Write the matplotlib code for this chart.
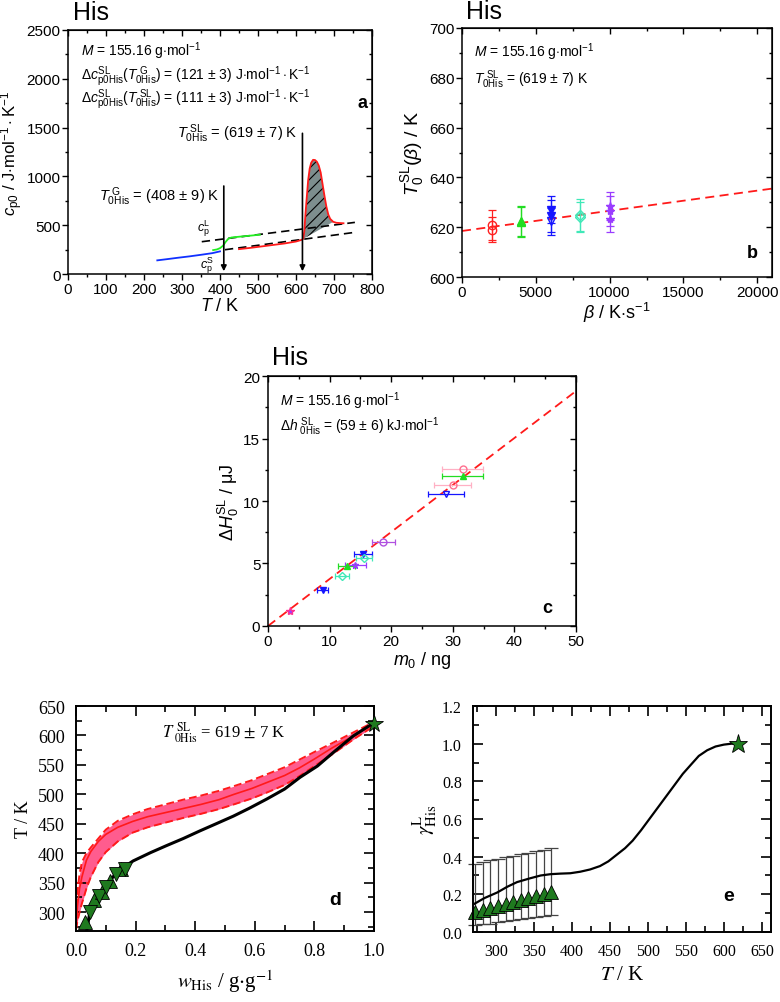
import numpy as np
import matplotlib
matplotlib.use('Agg')
import matplotlib.pyplot as plt
from matplotlib.ticker import MultipleLocator

plt.rcParams['font.family'] = 'Liberation Sans'
plt.rcParams['mathtext.fontset'] = 'custom'
plt.rcParams['mathtext.rm'] = 'Liberation Sans'
plt.rcParams['mathtext.it'] = 'Liberation Sans:italic'
plt.rcParams['mathtext.bf'] = 'Liberation Sans:bold'
plt.rcParams['mathtext.sf'] = 'Liberation Sans'
plt.rcParams['hatch.linewidth'] = 0.8

# ---- panel a : cp0(T) ----
a_blue_T = [235, 260, 290, 320, 350, 380, 400]
a_blue_cp = [140, 152, 167, 181, 197, 214, 232]
a_green_T = [382, 392, 400, 408, 415, 422, 430, 450, 480, 505]
a_green_cp = [245, 252, 265, 290, 330, 362, 374, 382, 393, 403]
a_red_T = [450, 480, 510, 540, 570, 600, 615, 619, 622, 625, 628, 632, 636, 640, 645,
           650, 655, 660, 665, 670, 675, 680, 685, 690, 698, 706, 716, 725]
a_red_cp = [255, 268, 283, 298, 313, 333, 350, 360, 440, 620, 768, 960, 1080, 1140, 1170,
            1168, 1150, 1110, 1040, 920, 800, 690, 610, 565, 535, 525, 522, 520]
a_liq_T = [352, 755]
a_liq_cp = [331, 529]
a_sol_T = [413, 755]
a_sol_cp = [249, 427]
a_Tg = 410
a_Tm = 617

# ---- panel b : T0(beta) ----
b_beta_red = [2000, 2000]
b_T_red = [621, 619]
b_err_red = [6, 5]
b_beta_green = [4000, 4000]
b_T_green = [622.5, 622]
b_err_green = [6, 6]
b_beta_blue = [6000, 6000]
b_T_blue = [627, 624.5]
b_err_blue = [5.5, 6.5]
b_beta_blue_open = [6000]
b_T_blue_open = [622.4]
b_err_blue_open = [5.5]
b_beta_cyan = [8000, 8000]
b_T_cyan = [625, 624]
b_err_cyan = [6.5, 6]
b_beta_violet = [10000, 10000, 10000]
b_T_violet = [628.5, 626.5, 623.5]
b_err_violet = [5.5, 6, 5.5]
b_fit_beta = [0, 21000]
b_fit_T = [618.5, 635.5]

# ---- panel c : dH(m0) ----
c_fit_m = [0, 50]
c_fit_H = [0, 18.8]
c_star_m, c_star_H = [3.5], [1.2]
c_blue_m, c_blue_H, c_blue_err = [8.9, 15.4], [2.85, 5.75], [0.9, 1.5]
c_blueo_m, c_blueo_H, c_blueo_err = [28.9], [10.6], [2.9]
c_cyan_m, c_cyan_H, c_cyan_err = [12.0, 15.6], [4.0, 5.4], [1.2, 1.3]
c_green_m, c_green_H, c_green_err = [12.8, 31.6], [4.8, 12.0], [1.4, 3.3]
c_viol_m, c_viol_H, c_viol_err = [14.2], [4.85], [1.7]
c_violc_m, c_violc_H, c_violc_err = [18.7], [6.7], [1.9]
c_pink_m, c_pink_H, c_pink_err = [30.0, 31.6], [11.3, 12.6], [3.0, 3.3]

# ---- panel d : solubility T(w) ----
d_black_w = [0.036, 0.045, 0.058, 0.075, 0.092, 0.115, 0.136, 0.165, 0.192, 0.25, 0.304, 0.36,
             0.416, 0.47, 0.528, 0.58, 0.64, 0.70, 0.752, 0.81, 0.863, 0.93, 0.992]
d_black_T = [268, 295, 311, 326, 339, 354, 367, 378, 387, 401, 413, 425,
             438, 450, 463, 476, 492, 509, 529, 548, 571, 599, 619]
d_band_w = [0.0, 0.005, 0.012, 0.02, 0.035, 0.05, 0.075, 0.1, 0.14, 0.19, 0.24, 0.3, 0.36, 0.42,
            0.48, 0.53, 0.59, 0.64, 0.7, 0.75, 0.8, 0.86, 0.93, 1.0]
d_up_T = [270, 335, 365, 385, 400, 410, 425, 440, 455, 466, 475, 483, 491, 498,
          506, 514, 524, 534, 546, 559, 572, 587, 605, 623]
d_mid_T = [270, 310, 340, 360, 388, 403, 420, 432, 444, 454, 462, 469, 476, 483,
           491, 500, 510, 520, 532, 545, 560, 579, 599, 620]
d_low_T = [270, 285, 300, 315, 340, 360, 385, 402, 420, 435, 444, 452, 460, 467,
           475, 483, 493, 503, 516, 531, 548, 568, 593, 616]
d_tri_up_w = [0.030, 0.060, 0.086, 0.114, 0.150]
d_tri_up_T = [283, 321, 334, 353, 373]
d_tri_dn_w = [0.047, 0.077, 0.100, 0.134, 0.164]
d_tri_dn_T = [300, 327, 342, 365, 374]
d_star_w, d_star_T = [1.0], [619]

# ---- panel e : activity coefficient ----
e_curve_T = [272, 285, 302, 315, 328, 345, 359, 372, 385, 398, 411, 424, 437, 448, 459, 470,
             480, 491, 502, 513, 524, 535, 546, 557, 567, 578, 589, 600, 610, 619]
e_curve_g = [0.15, 0.18, 0.21, 0.24, 0.265, 0.285, 0.30, 0.307, 0.31, 0.312, 0.32, 0.332,
             0.35, 0.375, 0.41, 0.445, 0.485, 0.54, 0.60, 0.66, 0.72, 0.78, 0.84, 0.89,
             0.935, 0.965, 0.985, 0.995, 1.0, 1.0]
e_tri_T = [273, 283, 293, 303, 313, 323, 333, 343, 353, 363, 373]
e_tri_g = [0.106, 0.118, 0.128, 0.138, 0.148, 0.158, 0.168, 0.178, 0.19, 0.20, 0.212]
e_err_hi = [0.362, 0.372, 0.381, 0.389, 0.397, 0.405, 0.413, 0.421, 0.429, 0.437, 0.446]
e_err_lo = [0.035, 0.040, 0.045, 0.051, 0.057, 0.063, 0.069, 0.075, 0.080, 0.086, 0.092]
e_star_T, e_star_g = [619], [1.0]

fig = plt.figure(figsize=(7.8, 10.03), dpi=100)

SANS = 11
LAB = 13
NOTE = 10


def origin_ticks(ax, xmaj, xmin, ymaj, ymin):
    # Origin style: outward ticks left/bottom, inward mirror ticks top/right
    ax.xaxis.set_major_locator(MultipleLocator(xmaj))
    ax.xaxis.set_minor_locator(MultipleLocator(xmin))
    ax.yaxis.set_major_locator(MultipleLocator(ymaj))
    ax.yaxis.set_minor_locator(MultipleLocator(ymin))
    ax.tick_params(which='major', direction='out', length=4, width=1, labelsize=SANS, pad=1.5)
    ax.tick_params(which='minor', direction='out', length=2, width=1)
    for s in ax.spines.values():
        s.set_linewidth(1.1)
    top = ax.secondary_xaxis('top')
    top.xaxis.set_major_locator(MultipleLocator(xmaj))
    top.xaxis.set_minor_locator(MultipleLocator(xmin))
    top.tick_params(which='major', direction='in', length=4, width=1, labeltop=False)
    top.tick_params(which='minor', direction='in', length=2, width=1)
    right = ax.secondary_yaxis('right')
    right.yaxis.set_major_locator(MultipleLocator(ymaj))
    right.yaxis.set_minor_locator(MultipleLocator(ymin))
    right.tick_params(which='major', direction='in', length=4, width=1, labelright=False)
    right.tick_params(which='minor', direction='in', length=2, width=1)


def kg_ticks(ax, xmaj, xmin, ymaj, ymin, size):
    ax.xaxis.set_major_locator(MultipleLocator(xmaj))
    ax.xaxis.set_minor_locator(MultipleLocator(xmin))
    ax.yaxis.set_major_locator(MultipleLocator(ymaj))
    ax.yaxis.set_minor_locator(MultipleLocator(ymin))
    ax.tick_params(which='both', direction='in', top=True, right=True, width=1.2,
                   labelsize=size, labelfontfamily='Liberation Serif')
    ax.tick_params(which='major', length=7, pad=8)
    ax.tick_params(which='minor', length=4)
    for s in ax.spines.values():
        s.set_linewidth(1.4)


# ================= panel a =================
ax = fig.add_axes([0.0872, 0.7258, 0.3897, 0.2433])
ax.set_xlim(0, 800)
ax.set_ylim(0, 2500)
origin_ticks(ax, 100, 50, 500, 250)
ax.plot(a_liq_T, a_liq_cp, color='k', ls=(0, (5, 3)), lw=1.2)
ax.plot(a_sol_T, a_sol_cp, color='k', ls=(0, (5, 3)), lw=1.2)
i0 = a_red_T.index(619)
i1 = a_red_T.index(698)
poly_T = a_red_T[i0:i1 + 1]
poly_cp = a_red_cp[i0:i1 + 1]
ax.fill(poly_T, poly_cp, facecolor='#7d8e8e', edgecolor='k', hatch='///', lw=0)
ax.plot(a_blue_T, a_blue_cp, color='#1030ff', lw=1.3)
ax.plot(a_green_T, a_green_cp, color='#22ee22', lw=1.3)
ax.plot(a_red_T, a_red_cp, color='#ff1a1a', lw=1.3)
ax.annotate('', xy=(a_Tg, 0), xytext=(a_Tg, 930),
            arrowprops=dict(arrowstyle='-|>', color='k', lw=1.2, mutation_scale=8))
ax.annotate('', xy=(a_Tm, 0), xytext=(a_Tm, 1470),
            arrowprops=dict(arrowstyle='-|>', color='k', lw=1.2, mutation_scale=8))
ax.text(35, 2290, r'$M$ = 155.16 g$\cdot$mol$^{\mathsf{-1}}$', fontsize=NOTE, va='center')
ax.text(35, 2030, r'$\Delta c^{\mathrm{SL}}_{\mathrm{p0His}}(T^{\mathrm{\ G}}_{\mathrm{0His}})$ = (121 $\pm$ 3) J$\cdot$mol$^{-1}\cdot$K$^{-1}$',
        fontsize=NOTE, va='center')
ax.text(35, 1800, r'$\Delta c^{\mathrm{SL}}_{\mathrm{p0His}}(T^{\mathrm{\ SL}}_{\mathrm{0His}})$ = (111 $\pm$ 3) J$\cdot$mol$^{-1}\cdot$K$^{-1}$',
        fontsize=NOTE, va='center')
ax.text(775, 1760, 'a', fontsize=13, fontweight='bold', ha='center', va='center')
ax.text(605, 1445, r'$T^{\mathrm{\ SL}}_{\mathrm{0His}}$ = (619 $\pm$ 7) K', fontsize=10.5, ha='right', va='center')
ax.text(400, 800, r'$T^{\mathrm{\ G}}_{\mathrm{0His}}$ = (408 $\pm$ 9) K', fontsize=10.5, ha='right', va='center')
ax.text(356, 470, r'$c^{\mathrm{L}}_{\mathrm{p}}$', fontsize=9, ha='center', va='center')
ax.text(365, 95, r'$c^{\mathrm{S}}_{\mathrm{p}}$', fontsize=9, ha='center', va='center')
ax.set_xlabel(r'$T$ / K', fontsize=LAB, labelpad=1)
ax.set_ylabel(r'$c_{\mathrm{p0}}$ / J$\cdot$mol$^{-1}\cdot$K$^{-1}$', fontsize=12, labelpad=1)
fig.text(0.094, 0.987, 'His', fontsize=18, va='center')

# ================= panel b =================
ax = fig.add_axes([0.5923, 0.7228, 0.3974, 0.2483])
ax.set_xlim(0, 21000)
ax.set_ylim(600, 700)
origin_ticks(ax, 5000, 2500, 20, 10)
ax.plot(b_fit_beta, b_fit_T, color='#ff1a1a', ls=(0, (5, 3)), lw=1.3)
ekw = dict(capsize=3, elinewidth=0.9, capthick=0.9, ms=6, lw=0)
ax.errorbar(b_beta_red, b_T_red, yerr=b_err_red, fmt='o', color='#ff2020', mfc='none', **ekw)
ax.errorbar(b_beta_green, b_T_green, yerr=b_err_green, fmt='^', color='#22dd22', **ekw)
ax.errorbar(b_beta_blue, b_T_blue, yerr=b_err_blue, fmt='v', color='#1515ff', **ekw)
ax.errorbar(b_beta_blue_open, b_T_blue_open, yerr=b_err_blue_open, fmt='v', color='#1515ff', mfc='none', **ekw)
ax.errorbar(b_beta_cyan, b_T_cyan, yerr=b_err_cyan, fmt='D', color='#40e8b8', mfc='none', ms=5, capsize=3,
            elinewidth=0.9, capthick=0.9, lw=0)
ax.errorbar(b_beta_violet, b_T_violet, yerr=b_err_violet, fmt='*', color='#9a3cff', mfc='#9a3cff', **ekw)
ax.text(790, 690.5, r'$M$ = 155.16 g$\cdot$mol$^{-1}$', fontsize=NOTE, va='center')
ax.text(790, 679.5, r'$T^{\mathrm{\ SL}}_{\mathrm{0His}}$ = (619 $\pm$ 7) K', fontsize=NOTE, va='center')
ax.text(19700, 610, 'b', fontsize=13, fontweight='bold', ha='center', va='center')
ax.set_xlabel(r'$\beta$ / K$\cdot$s$^{-1}$', fontsize=LAB, labelpad=1)
ax.set_ylabel(r'$T^{\mathrm{SL}}_{0}(\beta)$ / K', fontsize=14, labelpad=2)
fig.text(0.598, 0.988, 'His', fontsize=18, va='center')

# ================= panel c =================
ax = fig.add_axes([0.3436, 0.3749, 0.3949, 0.2492])
ax.set_xlim(0, 50)
ax.set_ylim(0, 20)
origin_ticks(ax, 10, 5, 5, 2.5)
ax.plot(c_fit_m, c_fit_H, color='#ff1a1a', ls=(0, (5, 3)), lw=1.3, zorder=1)
ckw = dict(capsize=2.5, elinewidth=0.9, capthick=0.9, lw=0, ms=5)
ax.errorbar(c_pink_m, c_pink_H, xerr=c_pink_err, fmt='o', color='#ff6f8f', mfc='none',
            ecolor='#ffb0c4', **ckw)
ax.errorbar(c_green_m, c_green_H, xerr=c_green_err, fmt='^', color='#22dd22', **ckw)
ax.errorbar(c_blueo_m, c_blueo_H, xerr=c_blueo_err, fmt='v', color='#1515ff', mfc='none', **ckw)
ax.errorbar(c_blue_m, c_blue_H, xerr=c_blue_err, fmt='v', color='#1515ff', **ckw)
ax.errorbar(c_cyan_m, c_cyan_H, xerr=c_cyan_err, fmt='D', color='#40e8b8', mfc='none',
            capsize=2.5, elinewidth=0.9, capthick=0.9, lw=0, ms=4.5)
ax.errorbar(c_viol_m, c_viol_H, xerr=c_viol_err, fmt='*', color='#9a3cff', mfc='none', **ckw)
ax.errorbar(c_violc_m, c_violc_H, xerr=c_violc_err, fmt='o', color='#b050e0', mfc='none', **ckw)
ax.plot(c_star_m, c_star_H, '*', color='#9a3cff', mec='#ff3090', ms=6)
ax.text(1.9, 18.05, r'$M$ = 155.16 g$\cdot$mol$^{-1}$', fontsize=NOTE, va='center')
ax.text(1.9, 16.0, r'$\Delta h^{\mathrm{\ SL}}_{\mathrm{\ 0His}}$ = (59 $\pm$ 6) kJ$\cdot$mol$^{-1}$', fontsize=NOTE, va='center')
ax.text(45.3, 1.5, 'c', fontsize=13, fontweight='bold', ha='center', va='center')
ax.set_xlabel(r'$m_0$ / ng', fontsize=LAB, labelpad=1)
ax.set_ylabel(r'$\Delta H^{\mathrm{SL}}_{0}$ / $\mathrm{\mu}$J', fontsize=LAB, labelpad=2)
fig.text(0.349, 0.643, 'His', fontsize=18, va='center')

# ================= panel d =================
ax = fig.add_axes([0.0974, 0.0708, 0.3821, 0.2243])
ax.set_xlim(0, 1.0)
ax.set_ylim(268, 650)
kg_ticks(ax, 0.2, 0.1, 50, 25, 13)
ax.fill_between(d_band_w, d_low_T, d_up_T, color='#ff5c8e', lw=0)
ax.plot(d_band_w, d_up_T, color='#ff1a1a', ls=(0, (4, 2)), lw=1.4)
ax.plot(d_band_w, d_low_T, color='#ff1a1a', ls=(0, (4, 2)), lw=1.4)
ax.plot(d_band_w, d_mid_T, color='#ff1a1a', lw=1.2)
ax.plot([0.0, 0.04], [350, 350], color='#ff1a1a', ls=(0, (4, 2)), lw=1.2)
ax.plot(d_black_w, d_black_T, color='k', lw=2.2)
ax.plot(d_tri_up_w, d_tri_up_T, '^', color='#1f7a1f', mec='k', mew=0.6, ms=10)
ax.plot(d_tri_dn_w, d_tri_dn_T, 'v', color='#1f7a1f', mec='k', mew=0.6, ms=10)
ax.plot(d_star_w, d_star_T, '*', color='#1f7a1f', mec='k', mew=0.6, ms=13, clip_on=False, zorder=5)
ax.text(0.29, 607, r'$T^{\mathrm{\ SL}}_{\mathrm{\ 0His}}$ = 619 $\pm$ 7 K', fontsize=12,
        family='Liberation Serif', math_fontfamily='stix', va='center')
ax.text(0.87, 322, 'd', fontsize=14, fontweight='bold', ha='center', va='center')
ax.set_xlabel(r'$w_{\mathrm{His}}$ / g$\cdot$g$^{-1}$', fontsize=15, family='Liberation Serif',
              math_fontfamily='stix', labelpad=6)
ax.set_ylabel('T / K', fontsize=13, family='Liberation Serif', labelpad=4)

# ================= panel e =================
ax = fig.add_axes([0.6064, 0.0698, 0.3821, 0.2253])
ax.set_xlim(270, 662)
ax.set_ylim(0, 1.2)
kg_ticks(ax, 50, 25, 0.2, 0.1, 11.5)
yerr = [np.subtract(e_tri_g, e_err_lo), np.subtract(e_err_hi, e_tri_g)]
ax.errorbar(e_tri_T, e_tri_g, yerr=yerr, fmt='none', ecolor='#444444', elinewidth=0.9,
            capsize=5, capthick=0.9, clip_on=False)
ax.plot(e_curve_T, e_curve_g, color='k', lw=1.6)
ax.plot(e_tri_T, e_tri_g, '^', color='#1f7a1f', mec='k', mew=0.6, ms=10, clip_on=False)
ax.plot(e_star_T, e_star_g, '*', color='#1f7a1f', mec='k', mew=0.6, ms=14, zorder=5)
ax.text(606, 0.194, 'e', fontsize=14, fontweight='bold', ha='center', va='center')
ax.set_xlabel(r'$T$ / K', fontsize=15, family='Liberation Serif', math_fontfamily='stix', labelpad=4)
ax.set_ylabel(r'$\gamma^{\mathrm{L}}_{\mathrm{His}}$', fontsize=15, math_fontfamily='stix', labelpad=2)

fig.savefig('out.png', dpi=100)
